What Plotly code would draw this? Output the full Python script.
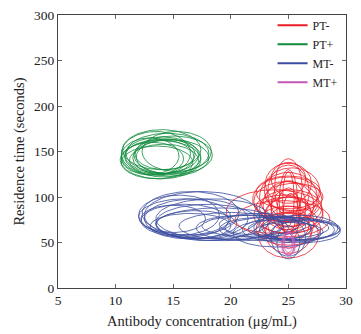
import numpy as np
import plotly.graph_objects as go

# Ellipse parameters: centre x, centre y, half-width, half-height
pt_minus_cx = [25.0, 25.0, 25.0, 24.9, 24.8, 25.0, 25.0, 25.2, 25.0, 25.0, 25.0, 23.8, 24.5,
               25.0, 25.0, 25.0, 25.0, 25.0, 25.0, 25.0, 25.5, 24.5, 25.0, 25.0, 25.0, 25.3,
               25.0, 24.8, 25.2]
pt_minus_cy = [110, 105, 100, 97, 95, 92, 90, 88, 85, 82, 80, 84, 76,
               75, 70, 65, 60, 58, 115, 120, 100, 90, 95, 105, 72, 108,
               98, 86, 78]
pt_minus_rx = [1.2, 1.8, 2.5, 3.0, 2.8, 2.2, 1.5, 2.7, 1.0, 2.0, 3.0, 4.2, 4.1,
               2.5, 1.8, 2.8, 2.0, 2.6, 2.0, 1.5, 2.5, 2.3, 0.8, 2.8, 2.2, 2.4,
               0.5, 1.3, 0.7]
pt_minus_ry = [32, 30, 27, 25, 22, 25, 28, 20, 25, 18, 20, 24, 20,
               15, 20, 18, 22, 25, 22, 18, 15, 12, 35, 18, 28, 24,
               30, 22, 26]

pt_plus_cx = [14.0, 13.8, 14.5, 13.2, 14.2, 15.0, 13.0, 14.8, 15.3, 14.0, 13.6, 14.6, 13.5, 14.3, 13.9]
pt_plus_cy = [146, 144, 148, 142, 140, 146, 145, 143, 150, 152, 138, 144, 148, 147, 141]
pt_plus_rx = [3.2, 3.0, 3.6, 2.7, 3.0, 3.4, 2.5, 3.3, 3.0, 3.4, 3.1, 2.8, 3.0, 2.6, 3.5]
pt_plus_ry = [20, 19, 22, 18, 18, 21, 20, 20, 22, 22, 18, 19, 24, 17, 21]

mt_minus_cx = [15.5, 16.0, 16.5, 17.0, 16.0, 17.5, 18.0, 17.0, 18.5, 19.0, 15.0, 16.5, 20.0, 21.0,
               22.0, 23.0, 24.0, 25.0, 25.5, 26.0, 25.0, 24.5, 26.0, 25.0, 25.0, 22.5, 26.5, 24.0]
mt_minus_cy = [80, 78, 82, 76, 74, 80, 72, 70, 76, 70, 76, 68, 68, 66,
               68, 65, 66, 64, 65, 64, 62, 66, 66, 55, 50, 70, 62, 60]
mt_minus_rx = [3.5, 4.0, 4.2, 4.5, 3.8, 5.0, 4.5, 3.5, 5.0, 5.5, 2.8, 3.5, 4.5, 4.0,
               4.5, 4.0, 4.5, 4.0, 4.0, 3.5, 3.0, 2.5, 3.3, 1.5, 1.0, 3.5, 3.0, 3.8]
mt_minus_ry = [22, 20, 24, 22, 18, 26, 20, 15, 22, 18, 15, 14, 15, 14,
               12, 13, 12, 14, 12, 11, 10, 13, 14, 20, 18, 12, 12, 15]

mt_plus_cx = [25.0, 25.0, 25.0, 25.0, 25.0]
mt_plus_cy = [48, 50, 46, 52, 49]
mt_plus_rx = [0.5, 0.4, 0.6, 0.35, 0.55]
mt_plus_ry = [12, 11, 10, 9, 13]

series_names = ["PT-", "PT+", "MT-", "MT+"]
series_colors = ["#ED1C24", "#0E8A3A", "#3B4DA0", "#C559B5"]
x_ticks = [5, 10, 15, 20, 25, 30]
y_ticks = [0, 50, 100, 150, 200, 250, 300]

groups = [
    (pt_minus_cx, pt_minus_cy, pt_minus_rx, pt_minus_ry),
    (pt_plus_cx, pt_plus_cy, pt_plus_rx, pt_plus_ry),
    (mt_minus_cx, mt_minus_cy, mt_minus_rx, mt_minus_ry),
    (mt_plus_cx, mt_plus_cy, mt_plus_rx, mt_plus_ry),
]

theta = np.linspace(0, 2 * np.pi, 90)


def outline(cx, cy, rx, ry):
    xs, ys = [], []
    for a, b, c, d in zip(cx, cy, rx, ry):
        xs += list(a + c * np.cos(theta)) + [None]
        ys += list(b + d * np.sin(theta)) + [None]
    return xs, ys


fig = go.Figure()
for name, color, g in zip(series_names, series_colors, groups):
    xs, ys = outline(*g)
    fig.add_trace(go.Scatter(x=xs, y=ys, mode="lines", name=name, showlegend=False,
                             line=dict(color=color, width=0.8)))
for name, color in zip(series_names, series_colors):
    fig.add_trace(go.Scatter(x=[None], y=[None], mode="lines", name=name,
                             line=dict(color=color, width=2)))

serif = "Liberation Serif, Times New Roman, serif"
tick_font = dict(family=serif, size=13.5, color="#222")
title_font = dict(family=serif, size=14.5, color="#222")
axis_common = dict(showgrid=False, zeroline=False, showline=True, linecolor="#444",
                   linewidth=1, mirror="ticks", ticks="inside", ticklen=4,
                   tickcolor="#666", tickfont=tick_font)
fig.update_layout(
    width=361, height=334,
    margin=dict(l=58, r=8, t=11, b=46),
    paper_bgcolor="white", plot_bgcolor="white",
    font=tick_font,
    xaxis=dict(range=[5, 30], tickvals=x_ticks, **axis_common,
               title=dict(text="Antibody concentration (μg/mL)", font=title_font, standoff=8)),
    yaxis=dict(range=[0, 300], tickvals=y_ticks, **axis_common,
               title=dict(text="Residence time (seconds)", font=title_font, standoff=5)),
    legend=dict(x=0.745, y=1.016, xanchor="left", yanchor="top", bgcolor="rgba(0,0,0,0)",
                font=dict(family=serif, size=12, color="#222"),
                tracegroupgap=0, itemwidth=30),
    showlegend=True,
)
fig.write_html("out.html")
